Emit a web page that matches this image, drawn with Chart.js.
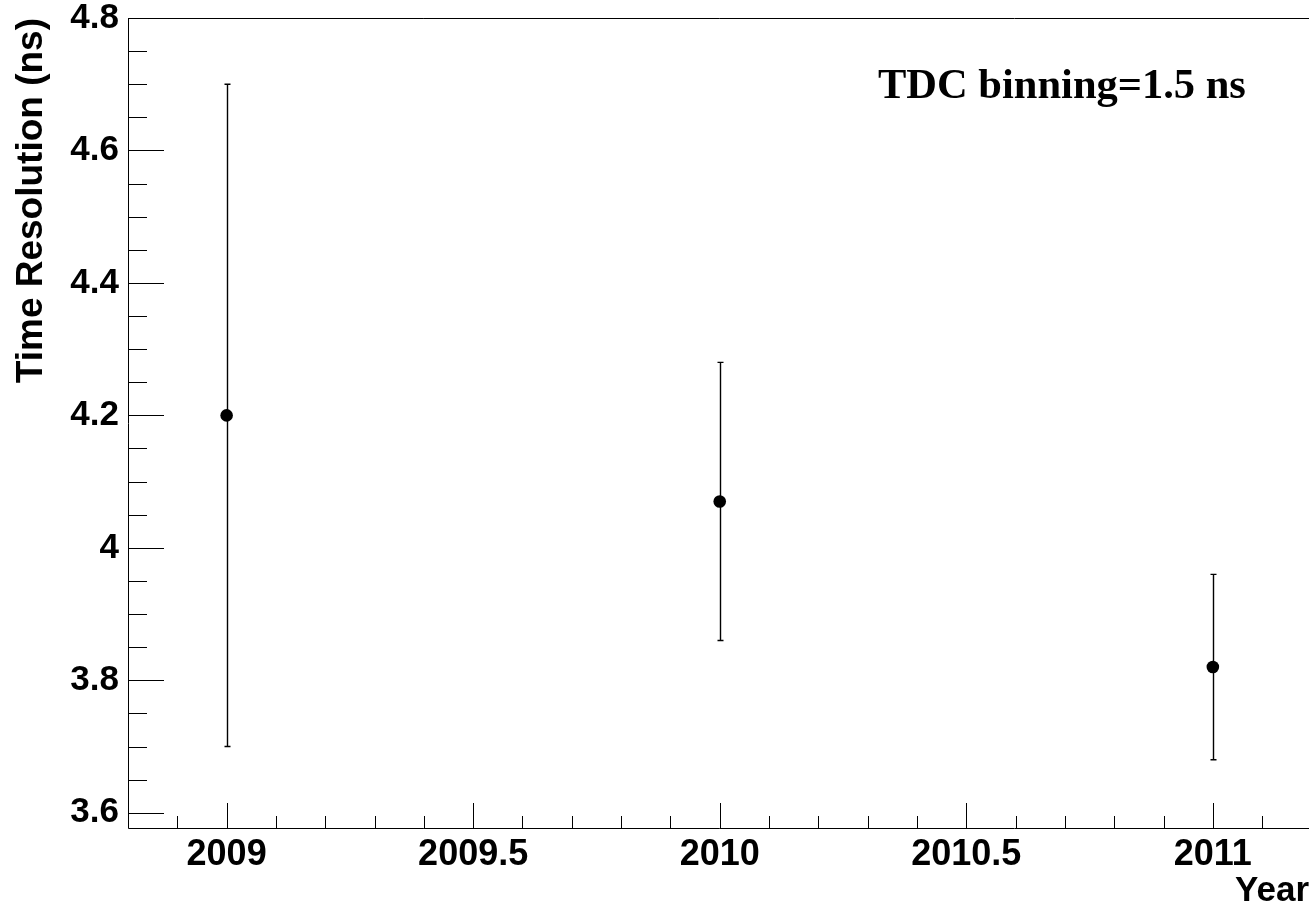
<!DOCTYPE html>
<html>
<head>
<meta charset="utf-8">
<script src="https://cdn.jsdelivr.net/npm/chart.js@4.4.0/dist/chart.umd.min.js"></script>
<style>
  body { margin: 0; background: #fff; overflow: hidden; }
</style>
</head>
<body>
<canvas id="grafico" width="1309" height="909"></canvas>
<script>
// datos
const years = [2009, 2010, 2011];
const resolution = [4.2, 4.07, 3.82];
const errUp = [0.5, 0.21, 0.14];
const errDown = [0.5, 0.21, 0.14];
const xTicks = [2009, 2009.5, 2010, 2010.5, 2011];
const yTicks = [3.6, 3.8, 4, 4.2, 4.4, 4.6, 4.8];
const xMinorStep = 0.1;
const yMinorStep = 0.05;
const label = 'TDC binning=1.5 ns';

const sans = "'Liberation Sans', Arial, Helvetica, sans-serif";
const serif = "'Liberation Serif', 'Times New Roman', serif";

// barras de error, dibujadas antes de los puntos
const errorBars = {
  id: 'errorBars',
  beforeDatasetsDraw(chart) {
    const ctx = chart.ctx;
    const x = chart.scales.x, y = chart.scales.y;
    ctx.save();
    ctx.strokeStyle = '#000';
    ctx.lineWidth = 1.4;
    for (let i = 0; i < years.length; i++) {
      const px = Math.round(x.getPixelForValue(years[i])) + 0.5;
      const top = y.getPixelForValue(resolution[i] + errUp[i]);
      const bot = y.getPixelForValue(resolution[i] - errDown[i]);
      ctx.beginPath();
      ctx.moveTo(px, top);
      ctx.lineTo(px, bot);
      ctx.moveTo(px - 3, top);
      ctx.lineTo(px + 3, top);
      ctx.moveTo(px - 3, bot);
      ctx.lineTo(px + 3, bot);
      ctx.stroke();
    }
    ctx.restore();
  }
};

// marco y ticks hacia adentro, estilo ROOT
const rootFrame = {
  id: 'rootFrame',
  afterDraw(chart) {
    const ctx = chart.ctx;
    const a = chart.chartArea;
    const x = chart.scales.x, y = chart.scales.y;
    const left = Math.round(a.left) + 0.5;
    const top = Math.round(a.top) + 0.5;
    const bottom = Math.round(a.bottom) + 0.5;
    ctx.save();
    ctx.strokeStyle = '#000';
    ctx.lineWidth = 1;
    ctx.beginPath();
    ctx.moveTo(left, top);
    ctx.lineTo(a.right + 2, top);
    ctx.moveTo(left, top);
    ctx.lineTo(left, bottom);
    ctx.lineTo(a.right + 2, bottom);
    ctx.stroke();

    ctx.beginPath();
    // ticks del eje x
    const nx = Math.round((x.max - x.min) / xMinorStep);
    for (let k = 0; k <= nx + 1; k++) {
      const v = Math.ceil(x.min / xMinorStep - 1e-6) * xMinorStep + k * xMinorStep;
      if (v > x.max + 1e-6) break;
      const major = Math.abs(v / 0.5 - Math.round(v / 0.5)) < 1e-6;
      const px = Math.round(x.getPixelForValue(v)) + 0.5;
      ctx.moveTo(px, a.bottom);
      ctx.lineTo(px, a.bottom - (major ? 25 : 12));
    }
    // ticks del eje y
    const ny = Math.round((y.max - y.min) / yMinorStep);
    for (let k = 0; k <= ny + 1; k++) {
      const v = Math.ceil(y.min / yMinorStep - 1e-6) * yMinorStep + k * yMinorStep;
      if (v > y.max + 1e-6) break;
      const major = Math.abs(v / 0.2 - Math.round(v / 0.2)) < 1e-6;
      const py = Math.round(y.getPixelForValue(v)) + 0.5;
      ctx.moveTo(a.left, py);
      ctx.lineTo(a.left + (major ? 36 : 19), py);
    }
    ctx.stroke();

    ctx.fillStyle = '#000';
    ctx.font = 'bold 42.5px ' + serif;
    ctx.textAlign = 'left';
    ctx.textBaseline = 'alphabetic';
    ctx.fillText(label, 878, 98);
    ctx.restore();
  }
};

const data = {
  datasets: [{
    label: 'Time Resolution',
    data: years.map((yr, i) => ({ x: yr, y: resolution[i] })),
    backgroundColor: '#000',
    borderColor: '#000',
    borderWidth: 0,
    pointRadius: 6.3,
    showLine: false
  }]
};

const config = {
  type: 'scatter',
  data,
  options: {
    responsive: false,
    animation: false,
    layout: { autoPadding: false, padding: { top: 18, right: 0, left: 0, bottom: 0 } },
    plugins: {
      legend: { display: false },
      tooltip: { enabled: false }
    },
    scales: {
      x: {
        type: 'linear',
        min: 2008.8,
        max: 2011.195,
        grid: { display: false, drawTicks: false },
        border: { display: false },
        afterBuildTicks: function (scale) {
          scale.ticks = xTicks.map(v => ({ value: v }));
        },
        afterFit: function (scale) {
          scale.height = 81;
          scale.paddingLeft = 0;
          scale.paddingRight = 0;
        },
        ticks: {
          color: '#000',
          padding: 5,
          maxRotation: 0,
          autoSkip: false,
          font: { family: sans, size: 36, weight: 'bold' },
          callback: v => String(v)
        },
        title: {
          display: true,
          text: 'Year',
          align: 'end',
          color: '#000',
          padding: { top: 0, bottom: 0 },
          font: { family: sans, size: 35, weight: 'bold', lineHeight: 1 }
        }
      },
      y: {
        type: 'linear',
        min: 3.577,
        max: 4.8,
        grid: { display: false, drawTicks: false },
        border: { display: false },
        afterBuildTicks: function (scale) {
          scale.ticks = yTicks.map(v => ({ value: v }));
        },
        afterFit: function (scale) {
          scale.width = 128;
          scale.paddingTop = 0;
          scale.paddingBottom = 0;
        },
        ticks: {
          color: '#000',
          padding: 9,
          autoSkip: false,
          font: { family: sans, size: 35, weight: 'bold' },
          callback: v => String(v)
        },
        title: {
          display: true,
          text: 'Time Resolution (ns)',
          align: 'end',
          color: '#000',
          padding: { top: 10, bottom: 0 },
          font: { family: sans, size: 37, weight: 'bold' }
        }
      }
    }
  },
  plugins: [errorBars, rootFrame]
};

const myChart = new Chart(document.getElementById('grafico'), config);
</script>
</body>
</html>
